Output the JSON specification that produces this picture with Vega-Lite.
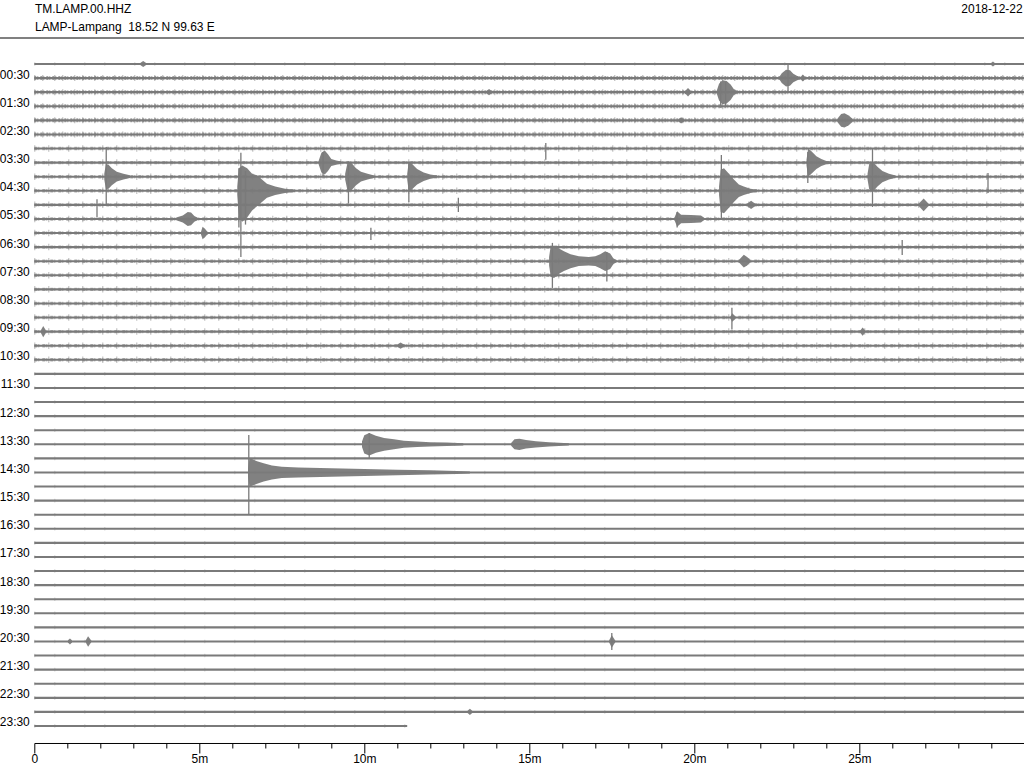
{
"$schema": "https://vega.github.io/schema/vega-lite/v6.json",
"width": 990, "height": 705,
"autosize": {"type": "none"},
"padding": {"left": 34.3, "top": 38, "right": 0, "bottom": 25},
"config": {"view": {"stroke": null}, "axis": {"labelFont": "Liberation Sans", "labelFontSize": 12, "labelColor": "#000", "grid": false, "labelOverlap": false, "labelBound": false, "labelFlush": false}, "text": {"font": "Liberation Sans", "fontSize": 12, "color": "#000"}},
"datasets": {
"traces": [
{"t":0,"m0":0,"m1":30,"noise":"low"},{"t":1,"m0":0,"m1":30,"noise":"high"},{"t":2,"m0":0,"m1":30,"noise":"high"},{"t":3,"m0":0,"m1":30,"noise":"high"},{"t":4,"m0":0,"m1":30,"noise":"high"},{"t":5,"m0":0,"m1":30,"noise":"high"},
{"t":6,"m0":0,"m1":30,"noise":"mid"},{"t":7,"m0":0,"m1":30,"noise":"mid"},{"t":8,"m0":0,"m1":30,"noise":"mid"},{"t":9,"m0":0,"m1":30,"noise":"mid"},{"t":10,"m0":0,"m1":30,"noise":"mid"},{"t":11,"m0":0,"m1":30,"noise":"mid"},{"t":12,"m0":0,"m1":30,"noise":"mid"},{"t":13,"m0":0,"m1":30,"noise":"mid"},{"t":14,"m0":0,"m1":30,"noise":"mid"},{"t":15,"m0":0,"m1":30,"noise":"mid"},{"t":16,"m0":0,"m1":30,"noise":"mid"},{"t":17,"m0":0,"m1":30,"noise":"mid"},{"t":18,"m0":0,"m1":30,"noise":"mid"},{"t":19,"m0":0,"m1":30,"noise":"mid"},{"t":20,"m0":0,"m1":30,"noise":"mid"},{"t":21,"m0":0,"m1":30,"noise":"mid"},
{"t":22,"m0":0,"m1":30,"noise":"low"},{"t":23,"m0":0,"m1":30,"noise":"low"},{"t":24,"m0":0,"m1":30,"noise":"low"},{"t":25,"m0":0,"m1":30,"noise":"low"},{"t":26,"m0":0,"m1":30,"noise":"low"},{"t":27,"m0":0,"m1":30,"noise":"low"},{"t":28,"m0":0,"m1":30,"noise":"low"},{"t":29,"m0":0,"m1":30,"noise":"low"},{"t":30,"m0":0,"m1":30,"noise":"low"},{"t":31,"m0":0,"m1":30,"noise":"low"},{"t":32,"m0":0,"m1":30,"noise":"low"},{"t":33,"m0":0,"m1":30,"noise":"low"},{"t":34,"m0":0,"m1":30,"noise":"low"},{"t":35,"m0":0,"m1":30,"noise":"low"},{"t":36,"m0":0,"m1":30,"noise":"low"},{"t":37,"m0":0,"m1":30,"noise":"low"},{"t":38,"m0":0,"m1":30,"noise":"low"},{"t":39,"m0":0,"m1":30,"noise":"low"},{"t":40,"m0":0,"m1":30,"noise":"low"},{"t":41,"m0":0,"m1":30,"noise":"low"},{"t":42,"m0":0,"m1":30,"noise":"low"},{"t":43,"m0":0,"m1":30,"noise":"low"},{"t":44,"m0":0,"m1":30,"noise":"low"},{"t":45,"m0":0,"m1":30,"noise":"low"},{"t":46,"m0":0,"m1":30,"noise":"low"},{"t":47,"m0":0,"m1":11.3,"noise":"low"}
],
"events": [
{"ev":"A","m":3.22,"lo":-0.08,"hi":0.08},{"ev":"A","m":3.3,"lo":-0.22,"hi":0.22},{"ev":"A","m":3.38,"lo":-0.08,"hi":0.08},
{"ev":"A2","m":29.0,"lo":-0.08,"hi":0.08},{"ev":"A2","m":29.05,"lo":-0.18,"hi":0.18},{"ev":"A2","m":29.1,"lo":-0.08,"hi":0.08},
{"ev":"B","m":22.58,"lo":0.9,"hi":1.1},{"ev":"B","m":22.65,"lo":0.65,"hi":1.35},{"ev":"B","m":22.78,"lo":0.4,"hi":1.6},{"ev":"B","m":22.9,"lo":0.45,"hi":1.55},{"ev":"B","m":23.0,"lo":0.7,"hi":1.3},{"ev":"B","m":23.12,"lo":0.85,"hi":1.15},{"ev":"B","m":23.2,"lo":0.92,"hi":1.08},
{"ev":"B2","m":23.22,"lo":0.92,"hi":1.08},{"ev":"B2","m":23.29,"lo":0.75,"hi":1.25},{"ev":"B2","m":23.36,"lo":0.92,"hi":1.08},
{"ev":"C","m":20.68,"lo":1.9,"hi":2.1},{"ev":"C","m":20.75,"lo":1.4,"hi":2.6},{"ev":"C","m":20.85,"lo":1.15,"hi":2.85},{"ev":"C","m":20.98,"lo":1.2,"hi":2.8},{"ev":"C","m":21.1,"lo":1.45,"hi":2.55},{"ev":"C","m":21.2,"lo":1.8,"hi":2.2},{"ev":"C","m":21.3,"lo":1.92,"hi":2.08},
{"ev":"C2","m":19.72,"lo":1.92,"hi":2.08},{"ev":"C2","m":19.81,"lo":1.7,"hi":2.3},{"ev":"C2","m":19.9,"lo":1.92,"hi":2.08},
{"ev":"C3","m":13.7,"lo":1.92,"hi":2.08},{"ev":"C3","m":13.78,"lo":1.78,"hi":2.22},{"ev":"C3","m":13.86,"lo":1.92,"hi":2.08},
{"ev":"D","m":19.52,"lo":3.92,"hi":4.08},{"ev":"D","m":19.6,"lo":3.78,"hi":4.22},{"ev":"D","m":19.68,"lo":3.92,"hi":4.08},
{"ev":"D2","m":24.33,"lo":3.9,"hi":4.1},{"ev":"D2","m":24.45,"lo":3.55,"hi":4.45},{"ev":"D2","m":24.55,"lo":3.5,"hi":4.5},{"ev":"D2","m":24.68,"lo":3.65,"hi":4.35},{"ev":"D2","m":24.8,"lo":3.9,"hi":4.1},
{"ev":"E","m":2.12,"lo":7.8,"hi":8.2},{"ev":"E","m":2.17,"lo":7.1,"hi":8.9},{"ev":"E","m":2.25,"lo":7.15,"hi":8.85},{"ev":"E","m":2.35,"lo":7.4,"hi":8.6},{"ev":"E","m":2.5,"lo":7.65,"hi":8.35},{"ev":"E","m":2.7,"lo":7.8,"hi":8.2},{"ev":"E","m":2.9,"lo":7.9,"hi":8.1},
{"ev":"F","m":6.15,"lo":8.7,"hi":9.3},{"ev":"F","m":6.2,"lo":7.4,"hi":10.9},{"ev":"F","m":6.3,"lo":7.2,"hi":11.2},{"ev":"F","m":6.45,"lo":7.4,"hi":10.9},{"ev":"F","m":6.6,"lo":7.8,"hi":10.4},{"ev":"F","m":6.75,"lo":7.9,"hi":10.1},{"ev":"F","m":6.9,"lo":8.2,"hi":9.8},{"ev":"F","m":7.05,"lo":8.5,"hi":9.5},{"ev":"F","m":7.3,"lo":8.7,"hi":9.3},{"ev":"F","m":7.6,"lo":8.85,"hi":9.15},{"ev":"F","m":7.9,"lo":8.92,"hi":9.08},
{"ev":"G","m":8.62,"lo":6.85,"hi":7.15},{"ev":"G","m":8.7,"lo":6.3,"hi":7.7},{"ev":"G","m":8.8,"lo":6.15,"hi":7.85},{"ev":"G","m":8.9,"lo":6.4,"hi":7.6},{"ev":"G","m":9.0,"lo":6.75,"hi":7.25},{"ev":"G","m":9.15,"lo":6.85,"hi":7.15},{"ev":"G","m":9.3,"lo":6.92,"hi":7.08},
{"ev":"H","m":9.42,"lo":7.8,"hi":8.2},{"ev":"H","m":9.5,"lo":6.9,"hi":9.1},{"ev":"H","m":9.6,"lo":7.0,"hi":9.0},{"ev":"H","m":9.75,"lo":7.4,"hi":8.6},{"ev":"H","m":9.9,"lo":7.65,"hi":8.35},{"ev":"H","m":10.1,"lo":7.8,"hi":8.2},{"ev":"H","m":10.3,"lo":7.92,"hi":8.08},
{"ev":"I","m":11.3,"lo":7.8,"hi":8.2},{"ev":"I","m":11.35,"lo":6.9,"hi":9.1},{"ev":"I","m":11.45,"lo":7.1,"hi":8.9},{"ev":"I","m":11.6,"lo":7.45,"hi":8.55},{"ev":"I","m":11.8,"lo":7.7,"hi":8.3},{"ev":"I","m":12.0,"lo":7.85,"hi":8.15},{"ev":"I","m":12.2,"lo":7.92,"hi":8.08},
{"ev":"J","m":4.3,"lo":10.9,"hi":11.1},{"ev":"J","m":4.5,"lo":10.75,"hi":11.25},{"ev":"J","m":4.65,"lo":10.5,"hi":11.5},{"ev":"J","m":4.75,"lo":10.55,"hi":11.45},{"ev":"J","m":4.85,"lo":10.8,"hi":11.2},{"ev":"J","m":4.95,"lo":10.92,"hi":11.08},
{"ev":"K","m":5.05,"lo":11.92,"hi":12.08},{"ev":"K","m":5.1,"lo":11.55,"hi":12.45},{"ev":"K","m":5.17,"lo":11.7,"hi":12.3},{"ev":"K","m":5.25,"lo":11.92,"hi":12.08},
{"ev":"L","m":20.75,"lo":8.7,"hi":9.3},{"ev":"L","m":20.8,"lo":7.5,"hi":10.5},{"ev":"L","m":20.9,"lo":7.4,"hi":10.6},{"ev":"L","m":21.05,"lo":7.8,"hi":10.2},{"ev":"L","m":21.2,"lo":8.2,"hi":9.8},{"ev":"L","m":21.35,"lo":8.55,"hi":9.45},{"ev":"L","m":21.5,"lo":8.7,"hi":9.3},{"ev":"L","m":21.7,"lo":8.85,"hi":9.15},{"ev":"L","m":21.9,"lo":8.92,"hi":9.08},
{"ev":"M","m":23.4,"lo":6.8,"hi":7.2},{"ev":"M","m":23.45,"lo":6.0,"hi":8.0},{"ev":"M","m":23.55,"lo":6.2,"hi":7.8},{"ev":"M","m":23.7,"lo":6.55,"hi":7.45},{"ev":"M","m":23.85,"lo":6.75,"hi":7.25},{"ev":"M","m":24.0,"lo":6.88,"hi":7.12},{"ev":"M","m":24.2,"lo":6.94,"hi":7.06},
{"ev":"N","m":25.25,"lo":7.8,"hi":8.2},{"ev":"N","m":25.3,"lo":7.1,"hi":8.9},{"ev":"N","m":25.4,"lo":6.9,"hi":9.1},{"ev":"N","m":25.55,"lo":7.3,"hi":8.7},{"ev":"N","m":25.7,"lo":7.6,"hi":8.4},{"ev":"N","m":25.9,"lo":7.8,"hi":8.2},{"ev":"N","m":26.1,"lo":7.92,"hi":8.08},
{"ev":"O","m":21.6,"lo":9.92,"hi":10.08},{"ev":"O","m":21.72,"lo":9.7,"hi":10.3},{"ev":"O","m":21.85,"lo":9.92,"hi":10.08},
{"ev":"O2","m":26.8,"lo":9.92,"hi":10.08},{"ev":"O2","m":26.95,"lo":9.55,"hi":10.45},{"ev":"O2","m":27.1,"lo":9.92,"hi":10.08},
{"ev":"P","m":19.4,"lo":10.9,"hi":11.1},{"ev":"P","m":19.48,"lo":10.45,"hi":11.55},{"ev":"P","m":19.6,"lo":10.7,"hi":11.3},{"ev":"P","m":19.9,"lo":10.72,"hi":11.28},{"ev":"P","m":20.2,"lo":10.75,"hi":11.25},{"ev":"P","m":20.3,"lo":10.92,"hi":11.08},
{"ev":"Q","m":15.6,"lo":13.7,"hi":14.3},{"ev":"Q","m":15.65,"lo":12.9,"hi":15.1},{"ev":"Q","m":15.75,"lo":12.9,"hi":15.2},{"ev":"Q","m":15.9,"lo":13.1,"hi":14.9},{"ev":"Q","m":16.05,"lo":13.3,"hi":14.7},{"ev":"Q","m":16.25,"lo":13.5,"hi":14.5},{"ev":"Q","m":16.5,"lo":13.65,"hi":14.35},{"ev":"Q","m":16.8,"lo":13.7,"hi":14.3},{"ev":"Q","m":17.0,"lo":13.65,"hi":14.35},{"ev":"Q","m":17.15,"lo":13.5,"hi":14.5},{"ev":"Q","m":17.3,"lo":13.3,"hi":14.7},{"ev":"Q","m":17.45,"lo":13.45,"hi":14.55},{"ev":"Q","m":17.55,"lo":13.8,"hi":14.2},{"ev":"Q","m":17.65,"lo":13.92,"hi":14.08},
{"ev":"R","m":21.35,"lo":13.92,"hi":14.08},{"ev":"R","m":21.5,"lo":13.55,"hi":14.45},{"ev":"R","m":21.6,"lo":13.7,"hi":14.3},{"ev":"R","m":21.7,"lo":13.92,"hi":14.08},
{"ev":"S","m":21.1,"lo":17.92,"hi":18.08},{"ev":"S","m":21.15,"lo":17.7,"hi":18.3},{"ev":"S","m":21.25,"lo":17.92,"hi":18.08},
{"ev":"T","m":6.48,"lo":28.7,"hi":29.3},{"ev":"T","m":6.52,"lo":28.0,"hi":30.0},{"ev":"T","m":6.6,"lo":28.05,"hi":29.95},{"ev":"T","m":6.75,"lo":28.2,"hi":29.8},{"ev":"T","m":6.95,"lo":28.35,"hi":29.65},{"ev":"T","m":7.2,"lo":28.5,"hi":29.5},{"ev":"T","m":7.5,"lo":28.6,"hi":29.4},{"ev":"T","m":8.0,"lo":28.65,"hi":29.35},{"ev":"T","m":9.0,"lo":28.7,"hi":29.3},{"ev":"T","m":10.0,"lo":28.75,"hi":29.25},{"ev":"T","m":11.0,"lo":28.8,"hi":29.2},{"ev":"T","m":12.0,"lo":28.85,"hi":29.15},{"ev":"T","m":12.8,"lo":28.9,"hi":29.1},{"ev":"T","m":13.2,"lo":28.93,"hi":29.07},
{"ev":"U","m":9.93,"lo":26.8,"hi":27.2},{"ev":"U","m":10.0,"lo":26.35,"hi":27.65},{"ev":"U","m":10.15,"lo":26.2,"hi":27.8},{"ev":"U","m":10.35,"lo":26.4,"hi":27.6},{"ev":"U","m":10.6,"lo":26.55,"hi":27.45},{"ev":"U","m":10.9,"lo":26.65,"hi":27.35},{"ev":"U","m":11.2,"lo":26.75,"hi":27.25},{"ev":"U","m":11.6,"lo":26.8,"hi":27.2},{"ev":"U","m":12.0,"lo":26.85,"hi":27.15},{"ev":"U","m":12.5,"lo":26.88,"hi":27.12},{"ev":"U","m":13.0,"lo":26.92,"hi":27.08},
{"ev":"V","m":14.45,"lo":26.9,"hi":27.1},{"ev":"V","m":14.55,"lo":26.65,"hi":27.35},{"ev":"V","m":14.7,"lo":26.6,"hi":27.4},{"ev":"V","m":14.9,"lo":26.7,"hi":27.3},{"ev":"V","m":15.2,"lo":26.78,"hi":27.22},{"ev":"V","m":15.6,"lo":26.85,"hi":27.15},{"ev":"V","m":16.2,"lo":26.92,"hi":27.08},
{"ev":"W","m":1.02,"lo":40.92,"hi":41.08},{"ev":"W","m":1.08,"lo":40.78,"hi":41.22},{"ev":"W","m":1.14,"lo":40.92,"hi":41.08},
{"ev":"W2","m":1.56,"lo":40.92,"hi":41.08},{"ev":"W2","m":1.63,"lo":40.62,"hi":41.38},{"ev":"W2","m":1.72,"lo":40.92,"hi":41.08},
{"ev":"W3","m":17.42,"lo":40.92,"hi":41.08},{"ev":"W3","m":17.5,"lo":40.55,"hi":41.45},{"ev":"W3","m":17.6,"lo":40.92,"hi":41.08},
{"ev":"X","m":13.13,"lo":45.92,"hi":46.08},{"ev":"X","m":13.2,"lo":45.78,"hi":46.22},{"ev":"X","m":13.27,"lo":45.92,"hi":46.08},
{"ev":"Y","m":0.2,"lo":18.9,"hi":19.1},{"ev":"Y","m":0.27,"lo":18.6,"hi":19.4},{"ev":"Y","m":0.35,"lo":18.9,"hi":19.1},
{"ev":"Y2","m":25.03,"lo":18.92,"hi":19.08},{"ev":"Y2","m":25.1,"lo":18.7,"hi":19.3},{"ev":"Y2","m":25.18,"lo":18.92,"hi":19.08},
{"ev":"Z","m":11.0,"lo":19.92,"hi":20.08},{"ev":"Z","m":11.1,"lo":19.78,"hi":20.22},{"ev":"Z","m":11.2,"lo":19.92,"hi":20.08}
],
"spikes": [
{"m":22.84,"lo":-0.05,"hi":2.0},{"m":20.8,"lo":1.25,"hi":3.1},{"m":20.95,"lo":1.3,"hi":3.05},{"m":2.18,"lo":5.9,"hi":10.0},{"m":1.9,"lo":9.6,"hi":10.9},
{"m":6.26,"lo":6.3,"hi":13.7},{"m":6.2,"lo":7.4,"hi":11.6},{"m":6.4,"lo":7.6,"hi":11.4},{"m":9.52,"lo":7.2,"hi":9.9},{"m":11.35,"lo":6.95,"hi":9.8},
{"m":8.75,"lo":6.24,"hi":8.02},{"m":20.82,"lo":6.46,"hi":11.07},{"m":23.44,"lo":6.24,"hi":8.44},{"m":25.4,"lo":6.0,"hi":10.15},{"m":28.9,"lo":7.74,"hi":9.16},
{"m":12.85,"lo":9.5,"hi":10.5},{"m":15.5,"lo":5.6,"hi":6.8},{"m":19.48,"lo":10.5,"hi":11.6},{"m":15.7,"lo":12.7,"hi":15.9},{"m":17.35,"lo":13.35,"hi":15.45},
{"m":21.14,"lo":17.3,"hi":18.85},{"m":6.5,"lo":26.34,"hi":32.02},{"m":10.15,"lo":26.2,"hi":27.97},{"m":17.5,"lo":40.4,"hi":41.6},{"m":26.3,"lo":12.5,"hi":13.56},{"m":10.2,"lo":11.63,"hi":12.5}
]
},
"layer": [
{
"data": {"name": "traces"},
"mark": {"type": "rule", "color": "#7a7a7a", "strokeWidth": 2.1},
"encoding": {
"x": {"field": "m0", "type": "quantitative", "title": null, "scale": {"domain": [0, 30], "nice": false, "zero": false},
  "axis": {"values": [0,1,2,3,4,5,6,7,8,9,10,11,12,13,14,15,16,17,18,19,20,21,22,23,24,25,26,27,28,29],
    "tickCount": 30,
    "labelExpr": "datum.value % 5 === 0 ? (datum.value === 0 ? '0' : datum.value + 'm') : ''",
    "tickSize": {"condition": {"test": "datum.value % 5 === 0", "value": 10}, "value": 5},
    "tickColor": "#000", "domainColor": "#000", "tickWidth": 1, "domainWidth": 1, "labelPadding": 1, "labelFlush": false, "labelOverlap": false, "labelBound": false, "grid": false}},
"x2": {"field": "m1"},
"y": {"field": "t", "type": "quantitative", "title": null, "scale": {"domain": [-1.846, 48.207], "reverse": true, "nice": false, "zero": false},
  "axis": {"values": [1,3,5,7,9,11,13,15,17,19,21,23,25,27,29,31,33,35,37,39,41,43,45,47],
    "tickCount": 24,
    "labelExpr": "(datum.value < 20 ? '0' : '') + floor(datum.value / 2) + ':30'",
    "domain": false, "ticks": false, "tickSize": 0, "labelPadding": 5, "labelBaseline": "alphabetic", "labelFlush": false, "labelOverlap": false, "labelBound": false, "grid": false}}
}
},
{
"data": {"name": "traces"},
"transform": [{"filter": "datum.noise === 'high'"}],
"mark": {"type": "rule", "color": "#7a7a7a", "strokeWidth": 4, "strokeDash": [2, 1, 1, 2], "opacity": 0.7},
"encoding": {
"x": {"field": "m0", "type": "quantitative", "title": null, "scale": {"domain": [0, 30], "nice": false, "zero": false}},
"x2": {"field": "m1"},
"y": {"field": "t", "type": "quantitative", "title": null, "scale": {"domain": [-1.846, 48.207], "reverse": true, "nice": false, "zero": false}}
}
},
{
"data": {"name": "traces"},
"transform": [{"filter": "datum.noise === 'high'"}],
"mark": {"type": "rule", "color": "#7a7a7a", "strokeWidth": 6, "strokeDash": [1, 7, 1, 11], "opacity": 0.6},
"encoding": {
"x": {"field": "m0", "type": "quantitative", "title": null, "scale": {"domain": [0, 30], "nice": false, "zero": false}},
"x2": {"field": "m1"},
"y": {"field": "t", "type": "quantitative", "title": null, "scale": {"domain": [-1.846, 48.207], "reverse": true, "nice": false, "zero": false}}
}
},
{
"data": {"name": "traces"},
"transform": [{"filter": "datum.noise === 'mid'"}],
"mark": {"type": "rule", "color": "#7a7a7a", "strokeWidth": 3.4, "strokeDash": [3, 1, 1, 3], "opacity": 0.6},
"encoding": {
"x": {"field": "m0", "type": "quantitative", "title": null, "scale": {"domain": [0, 30], "nice": false, "zero": false}},
"x2": {"field": "m1"},
"y": {"field": "t", "type": "quantitative", "title": null, "scale": {"domain": [-1.846, 48.207], "reverse": true, "nice": false, "zero": false}}
}
},
{
"data": {"name": "traces"},
"transform": [{"filter": "datum.noise === 'mid'"}],
"mark": {"type": "rule", "color": "#7a7a7a", "strokeWidth": 6.5, "strokeDash": [1, 13, 1, 19], "opacity": 0.55},
"encoding": {
"x": {"field": "m0", "type": "quantitative", "title": null, "scale": {"domain": [0, 30], "nice": false, "zero": false}},
"x2": {"field": "m1"},
"y": {"field": "t", "type": "quantitative", "title": null, "scale": {"domain": [-1.846, 48.207], "reverse": true, "nice": false, "zero": false}}
}
},
{
"data": {"name": "traces"},
"transform": [{"filter": "datum.noise === 'low'"}],
"mark": {"type": "rule", "color": "#7a7a7a", "strokeWidth": 3.6, "strokeDash": [1, 19, 1, 29], "opacity": 0.35},
"encoding": {
"x": {"field": "m0", "type": "quantitative", "title": null, "scale": {"domain": [0, 30], "nice": false, "zero": false}},
"x2": {"field": "m1"},
"y": {"field": "t", "type": "quantitative", "title": null, "scale": {"domain": [-1.846, 48.207], "reverse": true, "nice": false, "zero": false}}
}
},
{
"data": {"name": "events"},
"mark": {"type": "area", "color": "#7a7a7a", "opacity": 0.95, "interpolate": "linear"},
"encoding": {
"x": {"field": "m", "type": "quantitative", "title": null, "scale": {"domain": [0, 30], "nice": false, "zero": false}},
"y": {"field": "lo", "type": "quantitative", "title": null, "scale": {"domain": [-1.846, 48.207], "reverse": true, "nice": false, "zero": false}},
"y2": {"field": "hi"},
"detail": {"field": "ev", "type": "nominal"}
}
},
{
"data": {"name": "spikes"},
"mark": {"type": "rule", "color": "#7a7a7a", "strokeWidth": 1.3},
"encoding": {
"x": {"field": "m", "type": "quantitative", "title": null, "scale": {"domain": [0, 30], "nice": false, "zero": false}},
"y": {"field": "lo", "type": "quantitative", "title": null, "scale": {"domain": [-1.846, 48.207], "reverse": true, "nice": false, "zero": false}},
"y2": {"field": "hi"}
}
},
{
"data": {"values": [{"k": "header"}]},
"mark": {"type": "rule", "color": "#000", "strokeWidth": 1},
"encoding": {
"x": {"datum": -1.04, "type": "quantitative", "title": null, "scale": {"domain": [0, 30], "nice": false, "zero": false}},
"x2": {"datum": 30},
"y": {"datum": -1.846, "type": "quantitative", "title": null, "scale": {"domain": [-1.846, 48.207], "reverse": true, "nice": false, "zero": false}}
}
},
{
"data": {"values": [{"label": "TM.LAMP.00.HHZ"}]},
"mark": {"type": "text", "align": "left", "baseline": "alphabetic", "font": "Liberation Sans", "fontSize": 12, "color": "#000"},
"encoding": {
"x": {"datum": 0.02, "type": "quantitative", "title": null, "scale": {"domain": [0, 30], "nice": false, "zero": false}},
"y": {"datum": -3.62, "type": "quantitative", "title": null, "scale": {"domain": [-1.846, 48.207], "reverse": true, "nice": false, "zero": false}},
"text": {"field": "label"}
}
},
{
"data": {"values": [{"label": "LAMP-Lampang\u00a0 18.52 N 99.63 E"}]},
"mark": {"type": "text", "align": "left", "baseline": "alphabetic", "font": "Liberation Sans", "fontSize": 12, "color": "#000"},
"encoding": {
"x": {"datum": 0.02, "type": "quantitative", "title": null, "scale": {"domain": [0, 30], "nice": false, "zero": false}},
"y": {"datum": -2.34, "type": "quantitative", "title": null, "scale": {"domain": [-1.846, 48.207], "reverse": true, "nice": false, "zero": false}},
"text": {"field": "label"}
}
},
{
"data": {"values": [{"label": "2018-12-22"}]},
"mark": {"type": "text", "align": "right", "baseline": "alphabetic", "font": "Liberation Sans", "fontSize": 12, "color": "#000"},
"encoding": {
"x": {"datum": 29.95, "type": "quantitative", "title": null, "scale": {"domain": [0, 30], "nice": false, "zero": false}},
"y": {"datum": -3.62, "type": "quantitative", "title": null, "scale": {"domain": [-1.846, 48.207], "reverse": true, "nice": false, "zero": false}},
"text": {"field": "label"}
}
}
]
}
